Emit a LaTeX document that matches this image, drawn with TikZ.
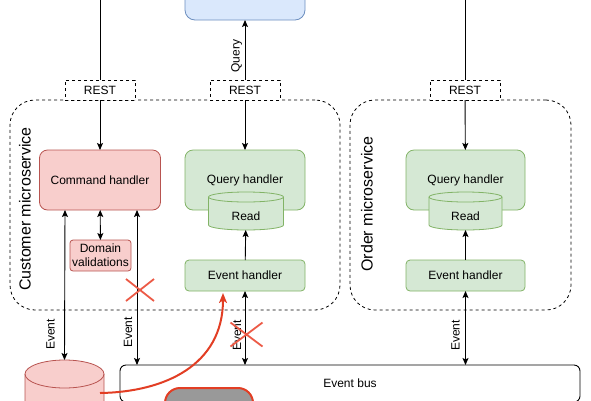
\documentclass[tikz,border=0pt]{standalone}
\usepackage{fontspec}
\setmainfont{Liberation Sans}
\usetikzlibrary{arrows.meta,shapes.misc}
\definecolor{redF}{HTML}{F8CECC}
\definecolor{redD}{HTML}{B85450}
\definecolor{grnF}{HTML}{D5E8D4}
\definecolor{grnD}{HTML}{82B366}
\definecolor{bluF}{HTML}{DAE8FC}
\definecolor{bluD}{HTML}{6C8EBF}
\definecolor{xred}{RGB}{236,90,70}
\definecolor{cred}{RGB}{226,62,36}
\definecolor{grayF}{HTML}{999999}
\newcommand{\mycyl}[8]{%
  \node[minimum width=#3pt, minimum height=#4pt] (#1) at (#2) {};
  \path[fill=#6, draw=#7, line width=0.8pt]
    ([yshift=-#5pt]#1.north west) -- ([yshift=#5pt]#1.south west)
    arc[start angle=180, end angle=360, x radius=#3pt/2, y radius=#5pt]
    -- ([yshift=-#5pt]#1.north east)
    arc[start angle=0, end angle=180, x radius=#3pt/2, y radius=#5pt] -- cycle;
  \draw[draw=#7, line width=0.8pt] ([yshift=-#5pt]#1.north west)
    arc[start angle=180, end angle=360, x radius=#3pt/2, y radius=#5pt];
  \node (#1t) at ([yshift=-#5pt]#1.center) {#8};
}
\begin{document}
\begin{tikzpicture}[x=1pt,y=-1pt,
  font=\fontsize{12}{14}\selectfont,
  every node/.style={inner sep=0pt, outer sep=0pt},
  ln/.style={line width=0.9pt, draw=black},
  tip/.tip={Stealth[length=7pt,width=6pt,inset=1.5pt]},
  arr/.style={ln, -tip},
  darr/.style={ln, tip-tip},
  cont/.style={draw, line width=0.8pt, dash pattern=on 3pt off 3pt, rounded corners=25pt},
  rest/.style={draw, line width=0.8pt, dash pattern=on 3pt off 3pt, fill=white, minimum width=70pt, minimum height=20pt},
  redbox/.style={draw=redD, fill=redF, line width=0.8pt, align=center},
  grnbox/.style={draw=grnD, fill=grnF, line width=0.8pt, align=center},
  evl/.style={font=\fontsize{12}{14}\selectfont, rotate=90},
  contl/.style={font=\fontsize{16}{18}\selectfont, rotate=90},
  xmark/.style={draw=xred, cross out, line width=1.8pt, minimum width=#1},
  redcurve/.style={draw=cred, line width=2pt, -{Stealth[length=10pt,width=8pt,inset=2.5pt]}}
]
\useasboundingbox (0,0) rectangle (591,400);
\clip (0,0) rectangle (591,400);

% containers
\node[cont, minimum width=330pt, minimum height=210pt] (cust) at (175,205) {};
\node[contl] (custl) at (25,209) {Customer microservice};
\node[cont, minimum width=221pt, minimum height=210pt] (ord) at (460.5,205) {};
\node[contl] (ordl) at (367,204) {Order microservice};

% top application box
\node[draw=bluD, fill=bluF, line width=0.8pt, rounded corners=10pt,
      minimum width=120pt, minimum height=50pt] (app) at (245,-5) {};

% REST labels
\node[rest] (rest1) at (100,90) {REST};
\node[rest] (rest2) at (245,90) {REST};
\node[rest] (rest3) at (465,90) {REST};
\coordinate (top1) at (100,-5);
\coordinate (top3) at (465,-5);

% customer microservice
\node[redbox, rounded corners=8pt, minimum width=121pt, minimum height=60pt] (cmd) at (100,180) {Command handler};
\node[redbox, rounded corners=3pt, minimum width=61pt, minimum height=31pt] (dom) at (100.5,255.5) {Domain\\validations};
\node[grnbox, rounded corners=8pt, minimum width=120pt, minimum height=60pt] (qh1) at (245,180) {\raisebox{-2pt}{Query handler}};
\mycyl{read1}{246,211}{75}{38}{5}{grnF}{grnD}{Read}
\node[grnbox, rounded corners=4pt, minimum width=120pt, minimum height=31pt] (ev1) at (245,275.5) {Event handler};

% order microservice
\node[grnbox, rounded corners=8pt, minimum width=119pt, minimum height=60pt] (qh2) at (465.5,180) {\raisebox{-2pt}{Query handler}};
\mycyl{read2}{465.5,211}{73}{38}{5}{grnF}{grnD}{Read}
\node[grnbox, rounded corners=4pt, minimum width=119pt, minimum height=31pt] (ev2) at (465.5,275.5) {Event handler};

% event bus and bottom items
\node[draw, fill=white, line width=0.9pt, rounded corners=6pt, minimum width=460pt, minimum height=37pt] (bus) at (350,383.5) {Event bus};
\node[draw=cred, fill=grayF, line width=2pt, rounded corners=15pt, minimum width=88pt, minimum height=50pt] (gray) at (209,413) {};
\mycyl{db}{64.5,393}{79}{66}{14}{redF}{redD}{}

% connectors
\draw[ln] (top1) -- (rest1);
\draw[arr] (rest1) -- (cmd);
\draw[arr] (rest2) -- node[pos=0.4, anchor=south, inner ysep=3pt, evl] {Query} (app);
\draw[arr] (rest2) -- (qh1);
\draw[ln] (top3) -- (rest3);
\draw[arr] (rest3) -- (qh2);
\draw[darr] (cmd) -- (dom);
\draw[darr] ([xshift=-35pt]cmd.south) -- node[pos=0.83, xshift=-14pt, evl] {Event} (db.north);
\draw[darr] ([xshift=37pt]cmd.south) -- node[pos=0.79, xshift=-9pt, evl] {Event} ([xshift=37pt]cmd.south |- bus.north);
\draw[arr] (ev1) -- (read1);
\draw[darr] (ev1.south) -- node[pos=0.6, xshift=-8pt, evl] {Event} (ev1.south |- bus.north);
\draw[arr] (ev2) -- (read2);
\draw[darr] (ev2.south) -- node[pos=0.6, xshift=-10pt, evl] {Event} (ev2.south |- bus.north);

% crosses
\node[xmark, minimum width=28pt, minimum height=22pt] (x1) at (140,290) {};
\node[xmark, minimum width=32pt, minimum height=24pt] (x2) at (246.5,334.5) {};

% red curve
\draw[redcurve] ([xshift=-4pt]db.east) .. controls (165,392) and (223,365) .. ([xshift=-22pt,yshift=-2pt]ev1.south);
\end{tikzpicture}
\end{document}
